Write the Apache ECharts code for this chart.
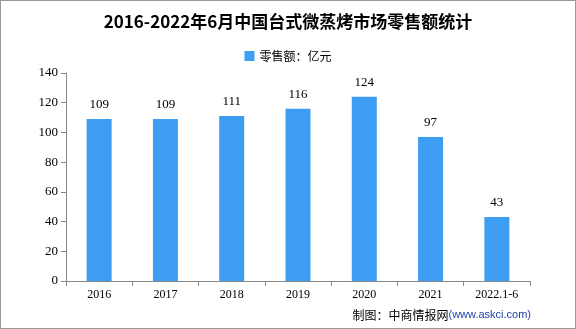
<!DOCTYPE html>
<html><head><meta charset="utf-8">
<script src="https://cdn.jsdelivr.net/npm/echarts@6/dist/echarts.min.js"></script>
<style>html,body{margin:0;padding:0;background:#fff}#c{width:576px;height:329px;box-sizing:border-box;border:1px solid #999}</style>
</head><body><div id="c"></div>
<script>
const categories = ['2016','2017','2018','2019','2020','2021','2022.1-6'];
const values = [109,109,111,116,124,97,43];
const yTicks = {min:0, max:140, interval:20};
const chart = echarts.init(document.getElementById('c'));
const font = '"Liberation Serif","Noto Sans CJK SC",serif';
chart.setOption({
  animation:false,
  title:{text:'2016-2022年6月中国台式微蒸烤市场零售额统计',left:'center',top:7,
    textStyle:{fontFamily:'"Noto Sans CJK SC",sans-serif',fontSize:17,fontWeight:'bold',color:'#000'}},
  legend:{top:44,left:'center',itemWidth:10,itemHeight:10,icon:'rect',
    textStyle:{fontFamily:'"Noto Sans CJK SC",sans-serif',fontSize:12,color:'#000'}},
  grid:{left:65,right:45,top:72,bottom:47},
  xAxis:{type:'category',data:categories,
    axisLine:{lineStyle:{color:'#888'}},axisTick:{show:true,length:5,lineStyle:{color:'#888'}},
    axisLabel:{color:'#000',fontSize:12,fontFamily:font,margin:8}},
  yAxis:{type:'value',min:yTicks.min,max:yTicks.max,interval:yTicks.interval,
    splitLine:{show:false},axisLine:{show:true,lineStyle:{color:'#888'}},
    axisTick:{show:true,length:5,lineStyle:{color:'#888'}},
    axisLabel:{color:'#000',fontSize:13,fontFamily:font,margin:8}},
  series:[{name:'零售额：亿元',type:'bar',data:values,barWidth:25,
    itemStyle:{color:'#3d9df2'},
    label:{show:true,position:'top',distance:8,color:'#000',fontSize:13,fontFamily:font}}],
  graphic:[{type:'text',right:44,bottom:7,style:{rich:{a:{fontSize:12,fill:'#000',fontFamily:'"Noto Sans CJK SC",sans-serif'},b:{fontSize:11,fill:'#1f3fa8',fontFamily:'"Liberation Sans",sans-serif'}},text:'{a|制图：中商情报网}{b|(www.askci.com)}'}}]
});
</script></body></html>
